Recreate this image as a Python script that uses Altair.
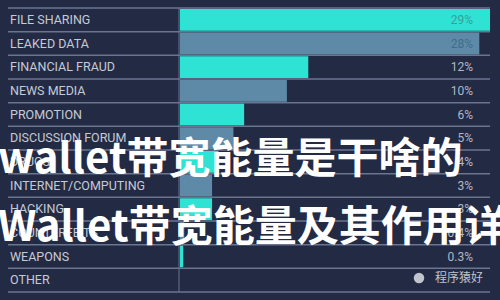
import altair as alt
import pandas as pd

categories = ["FILE SHARING", "LEAKED DATA", "FINANCIAL FRAUD", "NEWS MEDIA", "PROMOTION",
              "DISCUSSION FORUM", "DRUGS", "INTERNET/COMPUTING", "HACKING", "COUNTERFEITS",
              "WEAPONS", "OTHER"]
values = [29, 28, 12, 10, 6, 5, 3.6, 3, 3, 0.4, 0.3, 0]
value_labels = ["29%", "28%", "12%", "10%", "6%", "5%", "4%", "3%", "3%", "0.4%", "0.3%", ""]
watermark_lines = ["wallet带宽能量是干啥的", "Wallet带宽能量及其作用详解"]
logo_text = ["程序猿好"]

BG = "#232a44"
CYAN = "#2ee3d4"
STEEL = "#5e8aa7"
LINE = "#6b7590"

df = pd.DataFrame({"category": categories, "value": values, "label": value_labels})

base = alt.Chart(df).transform_window(idx="row_number()").transform_calculate(
    parity="(datum.idx - 1) % 2 == 0 ? 'a' : 'b'"
).transform_calculate(
    lc="datum.value > 20 ? (datum.parity == 'a' ? '#3a9f9b' : '#3e6d8a') : '#b3b8c4'"
)

yband = alt.Y("category:N", sort=None, axis=None,
              scale=alt.Scale(paddingInner=0, paddingOuter=0))

bars = base.mark_bar(height={"band": 0.92}).encode(
    x=alt.X("value:Q", axis=None, scale=alt.Scale(domain=[0, 29], range=[180, 490])),
    y=yband,
    color=alt.Color("parity:N", legend=None,
                    scale=alt.Scale(domain=["a", "b"], range=[CYAN, STEEL])),
)

rules = base.mark_rule(color=LINE, strokeWidth=1.5).encode(
    y=alt.Y("category:N", sort=None, axis=None, bandPosition=0,
            scale=alt.Scale(paddingInner=0, paddingOuter=0)),
    x=alt.value(8),
    x2=alt.value(490),
)

one = pd.DataFrame({"a": [0]})
bottom_rule = alt.Chart(one).mark_rule(color=LINE, strokeWidth=1.5).encode(
    y=alt.value(284), x=alt.value(8), x2=alt.value(490)
)
vert_rule = alt.Chart(one).mark_rule(color=LINE, strokeWidth=1).encode(
    x=alt.value(179), y=alt.value(0), y2=alt.value(284)
)

cat_labels = base.mark_text(align="left", baseline="middle", font="Roboto",
                            fontSize=12.5, color="#c5cad5").encode(
    x=alt.value(10), y=yband, text="category:N"
)

val_labels = base.mark_text(align="right", baseline="middle", font="Roboto",
                            fontSize=12).encode(
    x=alt.value(473), y=yband, text="label:N",
    color=alt.Color("lc:N", scale=None, legend=None),
)

wm1 = alt.Chart(pd.DataFrame({"t": [watermark_lines[0]]})).mark_text(
    align="left", baseline="middle", font="Noto Sans CJK SC", fontSize=42,
    fontWeight="bold", color="#ffffff"
).encode(x=alt.value(-2), y=alt.value(152), text="t:N")

wm2 = alt.Chart(pd.DataFrame({"t": [watermark_lines[1]]})).mark_text(
    align="left", baseline="middle", font="Noto Sans CJK SC", fontSize=42,
    fontWeight="bold", color="#ffffff"
).encode(x=alt.value(-2), y=alt.value(220), text="t:N")

logo_icon = alt.Chart(one).mark_circle(size=110, color="#c0c4cc", opacity=1).encode(
    x=alt.value(419), y=alt.value(270)
)
logo = alt.Chart(pd.DataFrame({"t": logo_text})).mark_text(
    align="left", baseline="middle", font="Noto Sans CJK SC", fontSize=12,
    color="#c0c4cc"
).encode(x=alt.value(435), y=alt.value(270), text="t:N")

chart = alt.layer(
    bars, rules, bottom_rule, vert_rule, cat_labels, val_labels, wm1, wm2,
    logo_icon, logo
).properties(
    width=500, height=284, background=BG,
    padding={"left": 0, "top": 8, "right": 0, "bottom": 8},
    autosize="none",
).configure_view(stroke=None, fill=BG)

chart.save("out.html", embed_options={"renderer": "svg", "actions": False})
